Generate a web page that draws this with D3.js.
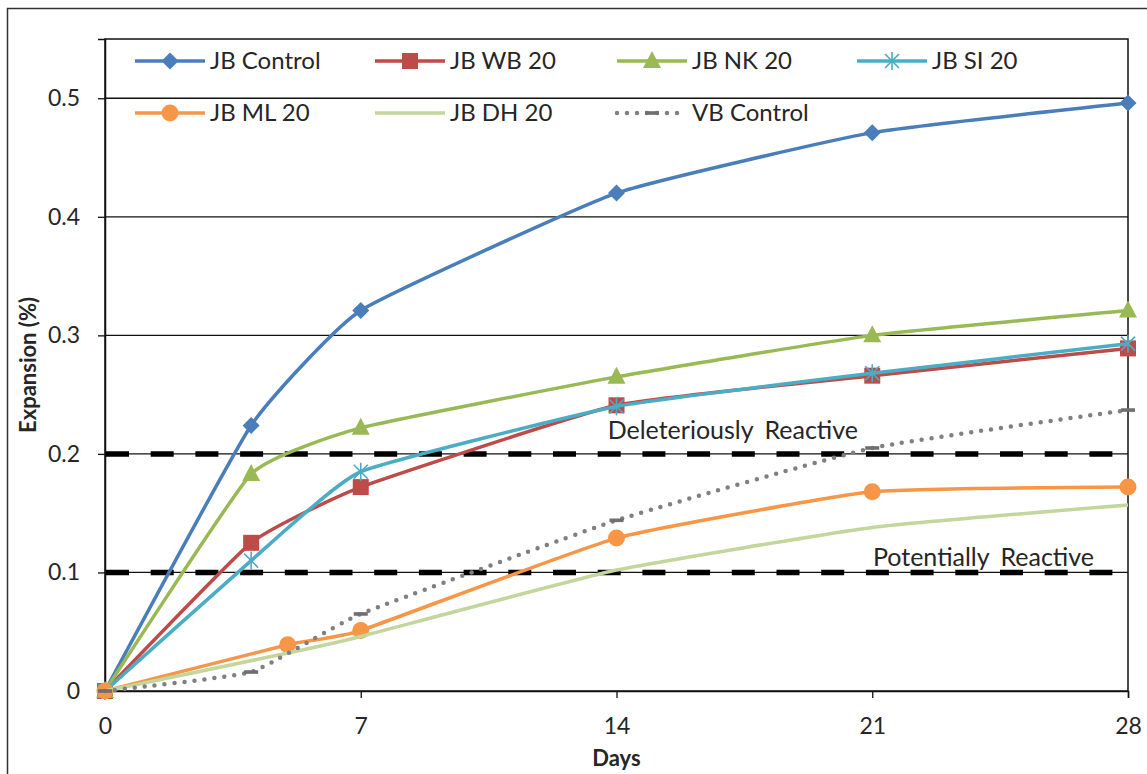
<!DOCTYPE html>
<html>
<head>
<meta charset="utf-8">
<script src="https://cdn.jsdelivr.net/npm/d3@7"></script>
<style>
  html, body { margin: 0; padding: 0; background: #fff; }
  svg { display: block; }
  text { font-family: Lato, "Open Sans", sans-serif; fill: #262626; }
</style>
</head>
<body>
<svg id="chart" width="1147" height="774"></svg>
<script>
// ---------- data ----------
const seriesNames = ["JB Control", "JB WB 20", "JB NK 20", "JB SI 20", "JB ML 20", "JB DH 20", "VB Control"];
const daysA = [0, 4, 7, 14, 21, 28];
const daysB = [0, 5, 7, 14, 21, 28];
const jbControl = [0, 0.224, 0.321, 0.420, 0.471, 0.496];
const jbWB20    = [0, 0.125, 0.172, 0.241, 0.266, 0.289];
const jbNK20    = [0, 0.183, 0.222, 0.265, 0.300, 0.321];
const jbSI20    = [0, 0.110, 0.185, 0.240, 0.268, 0.293];
const jbML20    = [0, 0.039, 0.051, 0.129, 0.168, 0.172];
const jbDH20    = [0, 0.032, 0.046, 0.102, 0.138, 0.157];
const vbControl = [0, 0.016, 0.065, 0.144, 0.205, 0.237];
const xTicks = [0, 7, 14, 21, 28];
const yTicks = [0, 0.1, 0.2, 0.3, 0.4, 0.5];
const yTickLabels = ["0", "0.1", "0.2", "0.3", "0.4", "0.5"];
const thresholdValues = [0.1, 0.2];
const thresholdLabels = ["Potentially Reactive", "Deleteriously Reactive"];
const xTitle = "Days";
const yTitle = "Expansion (%)";

// ---------- styles ----------
const styles = [
  { color: "#4A7EBB", marker: "diamond", dash: null, width: 3.5 },
  { color: "#BE4B48", marker: "square",  dash: null, width: 3.5 },
  { color: "#98B954", marker: "triangle",dash: null, width: 3.5 },
  { color: "#4BACC6", marker: "star",    dash: null, width: 3.5 },
  { color: "#F79646", marker: "circle",  dash: null, width: 3.5 },
  { color: "#C3D69B", marker: "none",    dash: null, width: 3.5 },
  { color: "#808080", marker: "dash",    dash: "0,10", width: 4.5 }
];
const seriesData = [
  [daysA, jbControl], [daysA, jbWB20], [daysA, jbNK20], [daysA, jbSI20],
  [daysB, jbML20], [daysB, jbDH20], [daysA, vbControl]
];

const svg = d3.select("#chart");
const W = 1147, H = 774;
const plot = { left: 105, right: 1128, top: 39, bottom: 691 };

svg.append("rect").attr("x", 0).attr("y", 0).attr("width", W).attr("height", H).attr("fill", "#fff");
// outer frame
svg.append("rect").attr("x", 7.5).attr("y", 8.5).attr("width", W + 20).attr("height", H + 20)
  .attr("fill", "none").attr("stroke", "#333").attr("stroke-width", 1.5);

const x = d3.scaleLinear().domain([0, 28]).range([plot.left, plot.right]);
const y = d3.scaleLinear().domain([0, 0.55]).range([plot.bottom, plot.top]);

// gridlines
svg.append("g").selectAll("line").data(yTicks.filter(v => v > 0)).join("line")
  .attr("x1", plot.left).attr("x2", plot.right)
  .attr("y1", d => y(d)).attr("y2", d => y(d))
  .attr("stroke", "#111").attr("stroke-width", 1.3);

// plot border
svg.append("rect").attr("x", plot.left).attr("y", plot.top)
  .attr("width", plot.right - plot.left).attr("height", plot.bottom - plot.top)
  .attr("fill", "none").attr("stroke", "#111").attr("stroke-width", 1.5);

// axes
const yAxis = d3.axisLeft(y).tickValues(yTicks).tickSize(7).tickPadding(18)
  .tickFormat((d, i) => yTickLabels[i]);
const gy = svg.append("g").attr("transform", `translate(${plot.left},0)`).call(yAxis);
gy.select(".domain").attr("stroke", "#111").attr("stroke-width", 1.5);
gy.selectAll(".tick line").attr("stroke", "#111").attr("stroke-width", 1.3);
gy.selectAll(".tick text").attr("font-family", "Lato").attr("font-size", 23).attr("fill", "#333");

const xAxis = d3.axisBottom(x).tickValues(xTicks).tickSize(7).tickPadding(0).tickFormat(d3.format("d"));
const gx = svg.append("g").attr("transform", `translate(0,${plot.bottom})`).call(xAxis);
gx.select(".domain").attr("stroke", "#111").attr("stroke-width", 1.5);
gx.selectAll(".tick line").attr("stroke", "#111").attr("stroke-width", 1.3);
gx.selectAll(".tick text").attr("font-family", "Lato").attr("font-size", 23).attr("fill", "#333")
  .attr("y", 35).attr("dy", "0.35em");

// axis titles
svg.append("text").attr("x", (plot.left + plot.right) / 2).attr("y", 766)
  .attr("text-anchor", "middle").attr("font-weight", "bold").attr("font-size", 22).text(xTitle);
svg.append("text").attr("transform", `translate(36,${(plot.top + plot.bottom) / 2}) rotate(-90)`)
  .attr("text-anchor", "middle").attr("font-weight", "bold").attr("font-size", 22).text(yTitle);

// threshold dashed lines
const thr = svg.append("g");
thresholdValues.forEach(v => {
  thr.append("path")
    .attr("d", d3.line()([[x(0), y(v)], [x(28), y(v)]]))
    .attr("stroke", "#000").attr("stroke-width", 5.5)
    .attr("stroke-dasharray", "23,21.7").attr("stroke-dashoffset", -1)
    .attr("fill", "none");
});
// threshold labels
svg.append("text").attr("x", 858).attr("y", 439).attr("text-anchor", "end")
  .attr("font-size", 25).attr("word-spacing", 5).attr("fill", "#222").text(thresholdLabels[1]);
svg.append("text").attr("x", 1094).attr("y", 566).attr("text-anchor", "end")
  .attr("font-size", 25).attr("word-spacing", 5).attr("fill", "#222").text(thresholdLabels[0]);

// marker drawing
function drawMarker(g, type, color, cx, cy) {
  switch (type) {
    case "diamond":
      g.append("path").attr("d", `M${cx},${cy - 8.5}L${cx + 8.5},${cy}L${cx},${cy + 8.5}L${cx - 8.5},${cy}Z`)
        .attr("fill", color); break;
    case "square":
      g.append("rect").attr("x", cx - 8).attr("y", cy - 8).attr("width", 16).attr("height", 16).attr("fill", color); break;
    case "triangle":
      g.append("path").attr("d", `M${cx},${cy - 10}L${cx + 9},${cy + 7}L${cx - 9},${cy + 7}Z`).attr("fill", color); break;
    case "star":
      g.append("path").attr("d",
        `M${cx - 7},${cy - 7}L${cx + 7},${cy + 7}M${cx - 7},${cy + 7}L${cx + 7},${cy - 7}M${cx},${cy - 9}L${cx},${cy + 9}`)
        .attr("stroke", color).attr("stroke-width", 1.6).attr("fill", "none"); break;
    case "circle":
      g.append("circle").attr("cx", cx).attr("cy", cy).attr("r", 8.5).attr("fill", color); break;
    case "dash":
      g.append("rect").attr("x", cx - 7).attr("y", cy - 1.8).attr("width", 14).attr("height", 3.6).attr("fill", "#6f6f6f"); break;
  }
}

// series (mildly smoothed, as in the original spreadsheet chart)
const lineGen = d3.line().x(d => x(d[0])).y(d => y(d[1])).curve(d3.curveCardinal.tension(0.6));
const gs = svg.append("g");
seriesData.forEach(([xs, ys], i) => {
  const st = styles[i];
  const pts = xs.map((d, j) => [d, ys[j]]);
  const p = gs.append("path").attr("d", lineGen(pts)).attr("fill", "none")
    .attr("stroke", st.color).attr("stroke-width", st.width).attr("stroke-linejoin", "round");
  if (st.dash) p.attr("stroke-dasharray", st.dash).attr("stroke-linecap", "round");
  const mg = gs.append("g");
  pts.forEach(pt => drawMarker(mg, st.marker, st.color, x(pt[0]), y(pt[1])));
});

// legend
const legendPos = [
  [135, 61], [375, 61], [617, 61], [857, 61],
  [135, 113], [375, 113], [617, 113]
];
const lg = svg.append("g");
seriesNames.forEach((name, i) => {
  const [lx, ly] = legendPos[i];
  const st = styles[i];
  const l = lg.append("line").attr("x1", lx).attr("x2", lx + 70).attr("y1", ly).attr("y2", ly)
    .attr("stroke", st.color).attr("stroke-width", st.width);
  if (st.dash) l.attr("stroke-dasharray", st.dash).attr("stroke-linecap", "round");
  drawMarker(lg, st.marker, st.color, lx + 35, ly);
  lg.append("text").attr("x", lx + 75).attr("y", ly).attr("dy", "0.35em")
    .attr("font-size", 24).attr("fill", "#222").text(name);
});
</script>
</body>
</html>
